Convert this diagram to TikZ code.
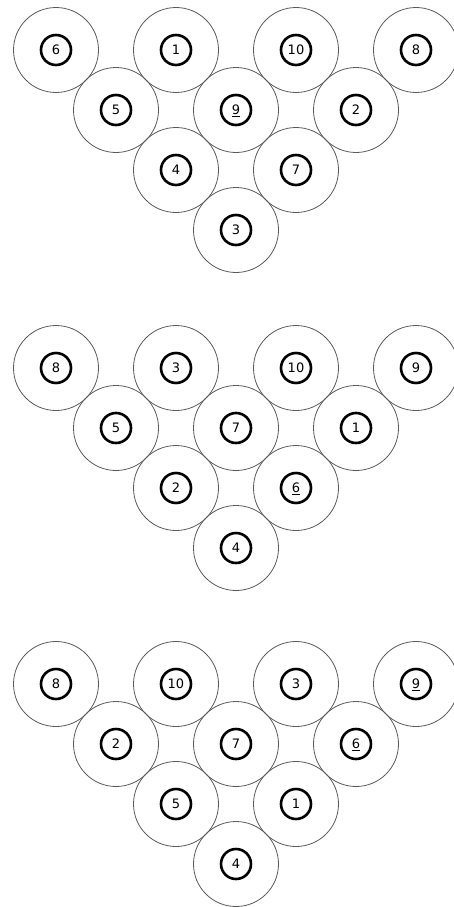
\documentclass[tikz,border=0pt]{standalone}
\usepackage{fontspec}
\setmainfont{DejaVu Sans}

\tikzset{
  ball/.style={circle, draw=black!65, line width=0.8pt, minimum size=85pt, inner sep=0pt},
  numeral/.style={circle, draw, line width=2.6pt, minimum size=30pt, inner sep=0pt,
    font=\fontsize{13}{13}\selectfont, text height=9.4pt, text depth=0pt}
}

% one row of a rack: prefix, row, top y, list of name/label
\newcommand{\rackrow}[4]{%
  \foreach \n/\lab [count=\i from 0] in {#4} {
    \node[ball] (#1-\n) at ({56+60*#2+120*\i}, {#3+60*#2}) {};
    \node[numeral] (#1-\n-no) at (#1-\n) {\lab};
  }
}

\begin{document}
\begin{tikzpicture}[x=1pt, y=-1pt]
    \useasboundingbox (0,0) rectangle (454,907);

    % first rack
    \rackrow{ra}{0}{50}{6/6, 1/1, 10/10, 8/8}
    \rackrow{ra}{1}{50}{5/5, 9/\underline{9}, 2/2}
    \rackrow{ra}{2}{50}{4/4, 7/7}
    \rackrow{ra}{3}{50}{3/3}

    % second rack
    \rackrow{rb}{0}{368}{8/8, 3/3, 10/10, 9/9}
    \rackrow{rb}{1}{368}{5/5, 7/7, 1/1}
    \rackrow{rb}{2}{368}{2/2, 6/\underline{6}}
    \rackrow{rb}{3}{368}{4/4}

    % third rack
    \rackrow{rc}{0}{684}{8/8, 10/10, 3/3, 9/\underline{9}}
    \rackrow{rc}{1}{684}{2/2, 7/7, 6/\underline{6}}
    \rackrow{rc}{2}{684}{5/5, 1/1}
    \rackrow{rc}{3}{684}{4/4}
\end{tikzpicture}
\end{document}
